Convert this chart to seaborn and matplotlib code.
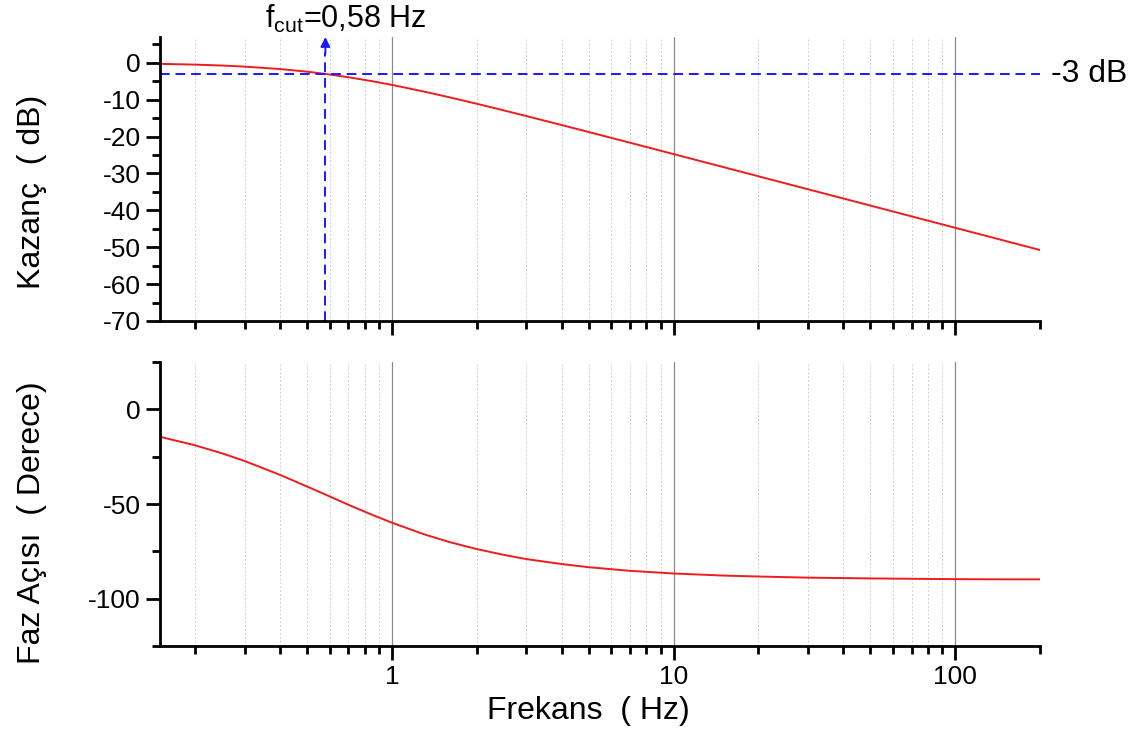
import matplotlib
matplotlib.use("Agg")
import matplotlib.pyplot as plt
import matplotlib.ticker as mticker
import matplotlib.transforms as mtransforms
import seaborn as sns
import pandas as pd

# ---- data ----
freq_hz = [0.15, 0.2, 0.25, 0.3, 0.4, 0.5, 0.58, 0.7, 0.85, 1.0, 1.3, 1.6, 2.0, 2.5,
           3.0, 4.0, 5.0, 7.0, 10.0, 15.0, 20.0, 30.0, 50.0, 70.0, 100.0, 150.0, 200.0]
gain_db = [-0.28, -0.49, -0.74, -1.03, -1.69, -2.41, -3.01, -3.90, -4.98, -5.99, -7.80,
           -9.35, -11.10, -12.92, -14.43, -16.86, -18.77, -21.66, -24.75, -28.26, -30.76,
           -34.28, -38.71, -41.63, -44.73, -48.25, -50.75]
phase_deg = [-14.5, -19.0, -23.3, -27.3, -34.6, -40.8, -45.0, -50.4, -55.7, -59.9, -66.0,
             -70.1, -73.8, -76.9, -79.1, -81.7, -83.4, -85.3, -86.7, -87.8, -88.3, -88.9,
             -89.3, -89.5, -89.7, -89.8, -89.8]
f_cut = 0.58
ref_db = -3
x_ticks = [1, 10, 100]
x_tick_labels = ["1", "10", "100"]

df = pd.DataFrame({"f": freq_hz, "gain": gain_db, "phase": phase_deg})

sns.set_style("ticks")
plt.rcParams["font.family"] = ["Liberation Sans", "DejaVu Sans"]
plt.rcParams["mathtext.fontset"] = "custom"
plt.rcParams["mathtext.rm"] = "Liberation Sans"
plt.rcParams["mathtext.it"] = "Liberation Sans"
plt.rcParams["axes.unicode_minus"] = False
plt.rcParams["text.color"] = "black"
plt.rcParams["axes.labelcolor"] = "black"
plt.rcParams["xtick.color"] = "black"
plt.rcParams["ytick.color"] = "black"

W, H = 1138, 733
fig = plt.figure(figsize=(W / 100, H / 100), dpi=100)
L, R = 160 / W, 1040 / W
ax1 = fig.add_axes([L, 1 - 321 / H, R - L, (321 - 37) / H])
ax2 = fig.add_axes([L, 1 - 646 / H, R - L, (646 - 362) / H])

for ax in (ax1, ax2):
    ax.set_xscale("log")
    ax.set_xlim(0.15, 200)
    ax.xaxis.set_major_locator(mticker.FixedLocator(x_ticks))
    ax.xaxis.set_minor_locator(mticker.LogLocator(base=10, subs=range(2, 10), numticks=20))
    ax.xaxis.set_minor_formatter(mticker.NullFormatter())
    ax.grid(axis="x", which="major", color="#8a8a8a", linewidth=0.9, linestyle="-")
    ax.grid(axis="x", which="minor", color="#d0d0d0", linewidth=0.7, linestyle=(0, (2, 2)))
    ax.grid(axis="y", visible=False)
    for s in ("top", "right"):
        ax.spines[s].set_visible(False)
    for s in ("left", "bottom"):
        ax.spines[s].set_linewidth(2.0)
        ax.spines[s].set_color("black")
    ax.tick_params(which="major", direction="out", length=10, width=2.0, labelsize=19,
                   colors="black", pad=4)
    ax.tick_params(which="minor", direction="out", length=6, width=2.0)
    ax.set_axisbelow(True)

# ---- gain panel ----
sns.lineplot(data=df, x="f", y="gain", ax=ax1, color="#ee1c1c", linewidth=1.4)
ax1.set_ylim(-70, 7)
ax1.yaxis.set_major_locator(mticker.MultipleLocator(10))
ax1.yaxis.set_minor_locator(mticker.MultipleLocator(5))
ax1.set_xticklabels([])
ax1.set_xlabel("")
ax1.set_ylabel("Kazanç  ( dB)", fontsize=23)
ax1.yaxis.set_label_coords(-0.128, 0.455)

dash = (0, (5, 3))
ax1.plot([0.15, 200], [ref_db, ref_db], color="#1a1aff", linewidth=1.4, linestyle=dash)
ax1.plot([f_cut, f_cut], [-70, 3.0], color="#1a1aff", linewidth=1.4, linestyle=dash)
ax1.annotate("", xy=(f_cut, 7), xytext=(f_cut, 2.5),
             arrowprops=dict(arrowstyle="-|>", color="#1a1aff", lw=1.4,
                             mutation_scale=14, shrinkA=0, shrinkB=0),
             annotation_clip=False)
trans = mtransforms.blended_transform_factory(ax1.transAxes, ax1.transData)
ax1.text(1.012, ref_db, "-3 dB", transform=trans, ha="left", va="center", fontsize=23)
fig.text(265 / W, 1 - 28 / H, r"f$_{\mathrm{cut}}$=0,58 Hz", ha="left", va="baseline",
         fontsize=22)

# ---- phase panel ----
sns.lineplot(data=df, x="f", y="phase", ax=ax2, color="#ee1c1c", linewidth=1.4)
ax2.set_ylim(-125, 25)
ax2.yaxis.set_major_locator(mticker.MultipleLocator(50))
ax2.yaxis.set_minor_locator(mticker.MultipleLocator(25))
ax2.set_xticklabels(x_tick_labels)
ax2.set_xlabel("Frekans  ( Hz)", fontsize=23)
ax2.xaxis.set_label_coords((588 - 160) / 880, -0.175)
ax2.set_ylabel("Faz Açısı  ( Derece)", fontsize=23)
ax2.yaxis.set_label_coords(-0.128, 0.435)

fig.savefig("out.png", dpi=100)
